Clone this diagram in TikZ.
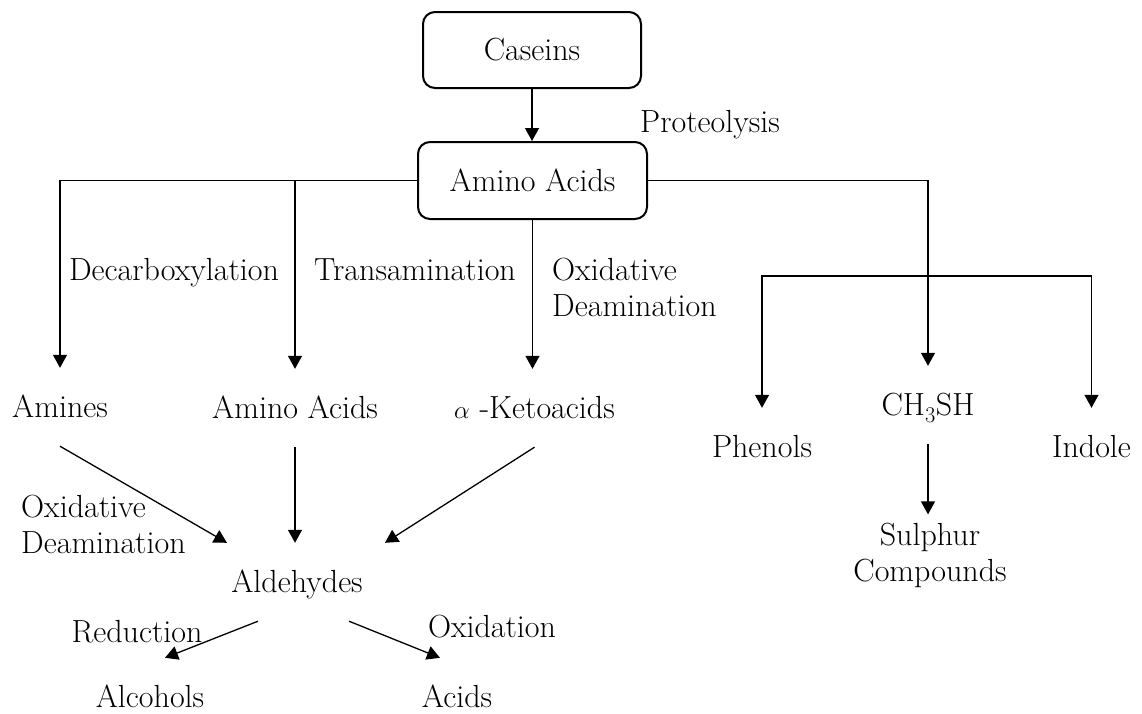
\documentclass[tikz,border=0pt]{standalone}
\usetikzlibrary{arrows.meta,calc}
\begin{document}
\begin{tikzpicture}[x=1pt,y=-1pt,
  font=\fontsize{32}{36}\selectfont,
  box/.style={draw,line width=2pt,rounded corners=12pt,minimum width=218pt,minimum height=76pt,inner sep=0pt},
  lbl/.style={inner sep=0pt,text height=21.8pt,text depth=0pt},
  lbltwo/.style={inner sep=0pt},
  item/.style={lbl,minimum height=78pt},
  arr/.style={line width=1.3pt,-{Triangle[width=14pt,length=13pt]}},
  ln/.style={line width=1.3pt}]
\path[use as bounding box] (0,0) rectangle (1142,713);

% boxes
\node[box] (cas) at (532,50) {Caseins};
\node[box,minimum width=229pt,minimum height=77pt] (aa) at (532.5,180.5) {Amino Acids};

% items
\node[item] (amines) at (60,407) {Amines};
\node[item] (aa2) at (295,408) {Amino Acids};
\node[item] (keto) at (534.5,408) {$\alpha$ -Ketoacids};
\node[item] (ch3) at (928,405) {CH\textsubscript{3}SH};
\node[item] (phen) at (762,447) {Phenols};
\node[item] (ind) at (1091.5,447) {Indole};
\node[item] (ald) at (297,582) {Aldehydes};
\node[item] (alc) at (150,697) {Alcohols};
\node[item] (acid) at (457,697) {Acids};
\node[lbltwo,align=center] (sul) at (930,555.9) {Sulphur\\Compounds};

% labels
\node[lbl] (prot) at (710,122) {Proteolysis};
\node[lbl] (decarb) at (174,270) {Decarboxylation};
\node[lbl] (trans) at (415,270) {Transamination};
\node[lbltwo,align=left,anchor=west] (od1) at (552,287.9) {Oxidative\\Deamination};
\node[lbltwo,align=left,anchor=west] (od2) at (21,524.9) {Oxidative\\Deamination};
\node[lbl] (red) at (137,632) {Reduction};
\node[lbl] (oxi) at (492,627) {Oxidation};

% connectors
\draw[arr] (cas.south) -- (cas.south |- aa.north);
\draw[arr] (aa.west) -| (amines.north);
\coordinate (tb) at (aa2.north |- aa.west);
\draw[arr] (tb) -- (aa2.north);
\draw[arr] (aa.south) -- (aa.south |- keto.north);
\draw[arr] (aa.east) -| (ch3.north);
\coordinate (br) at (928,276);
\draw[arr] (br) -| (phen.north);
\draw[arr] (br) -| (ind.north);
\coordinate (sultop) at ([yshift=9pt]sul.north);
\draw[arr] (ch3.south) -- (ch3.south |- sultop);

\draw[arr] (amines.south) -- ([xshift=-70pt]ald.north);
\draw[arr] (aa2.south) -- (aa2.south |- ald.north);
\draw[arr] (keto.south) -- ([xshift=88pt]ald.north);
\draw[arr] ([xshift=-39pt]ald.south) -- ([xshift=15pt]alc.north);
\draw[arr] ([xshift=52pt]ald.south) -- ([xshift=-17pt]acid.north);
\end{tikzpicture}
\end{document}
